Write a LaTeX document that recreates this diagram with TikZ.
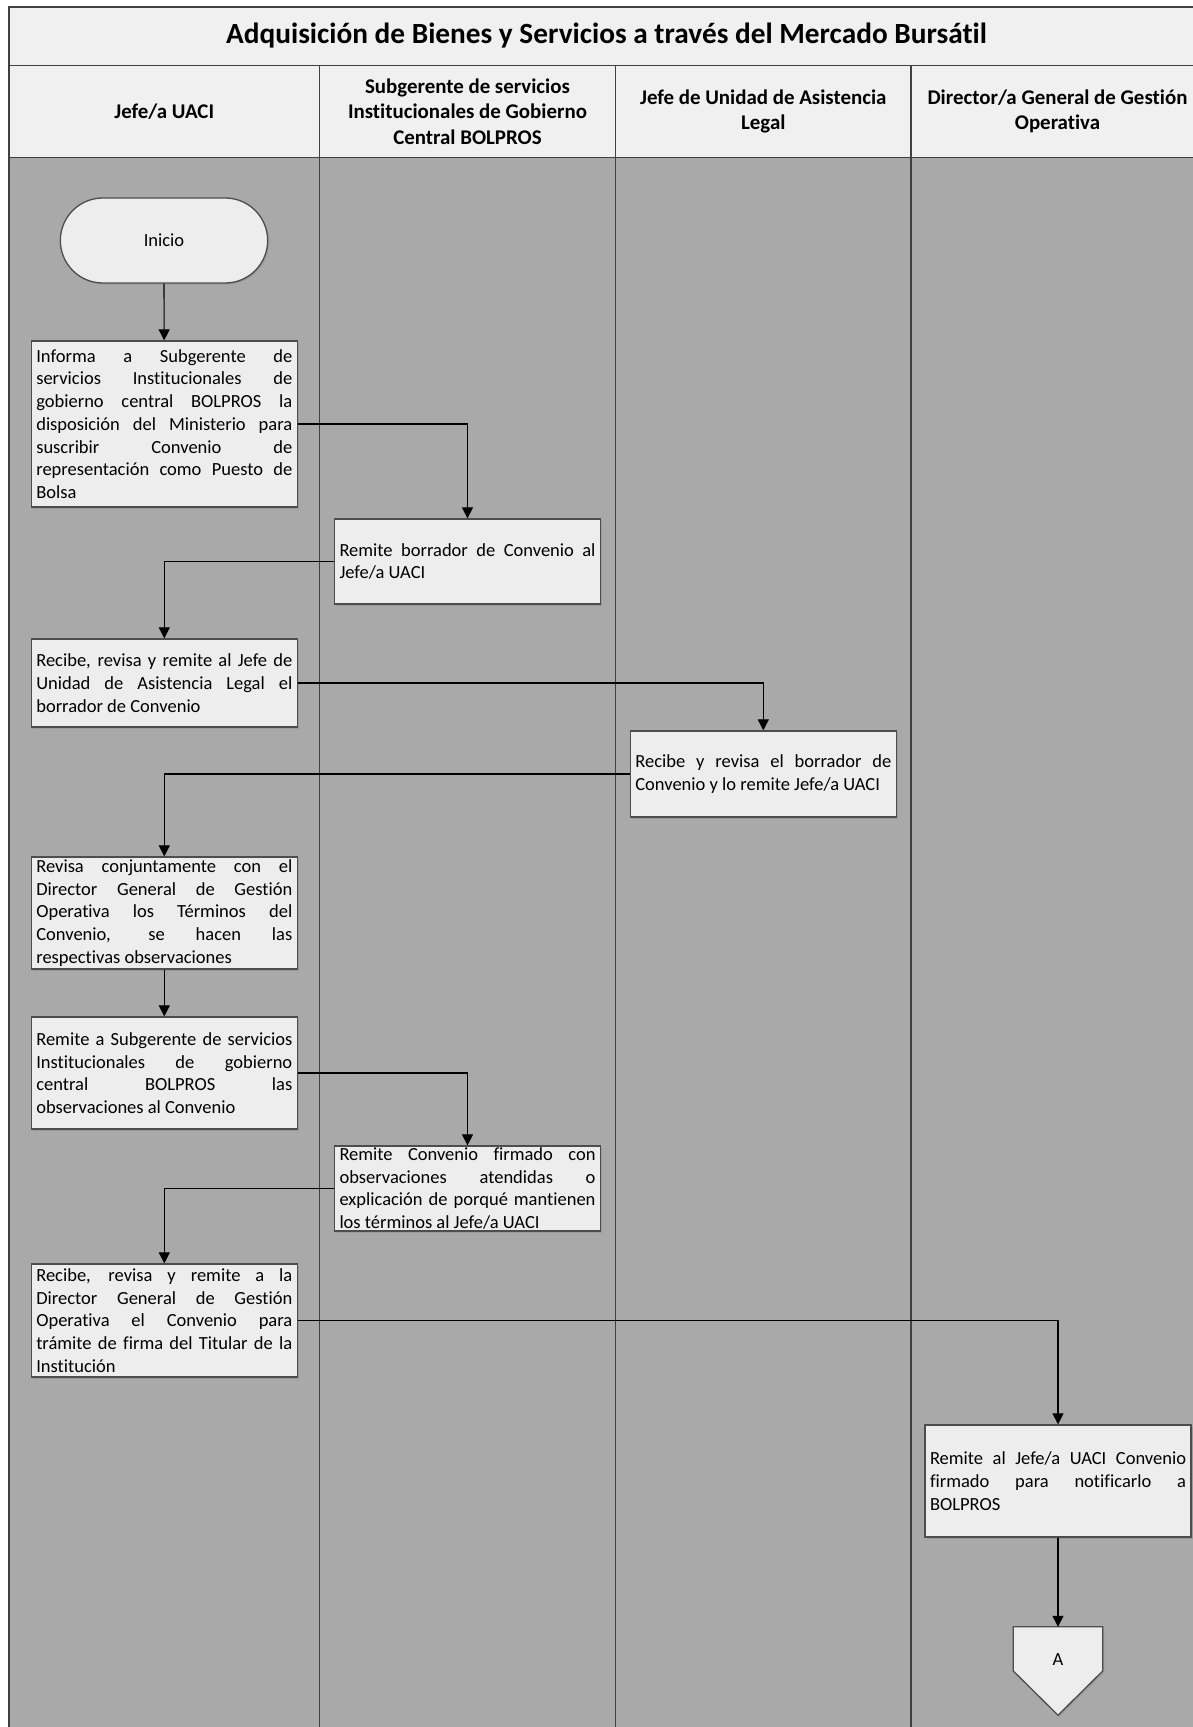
\documentclass[tikz,border=0pt]{standalone}
\usepackage{fontspec}
\setmainfont{Carlito}[Ligatures=NoCommon]
\usetikzlibrary{arrows.meta,shadows,shapes.misc}
\definecolor{lanegray}{HTML}{A9A9A9}
\definecolor{headfill}{HTML}{F0F0F0}
\definecolor{boxfill}{HTML}{EDEDED}
\definecolor{linedark}{HTML}{404040}
\definecolor{boxline}{HTML}{4D4D4D}
\newcommand\txtbody{\fontsize{18.5}{22.7}\selectfont\hyphenpenalty=10000\tolerance=10000\hbadness=10000}
\newcommand\txthead{\fontsize{20.9}{25.3}\selectfont\bfseries}
\newcommand\txttitle{\fontsize{29.3}{34}\selectfont\bfseries}
\begin{document}
\begin{tikzpicture}[x=1pt,y=-1pt,
  frame/.style={draw=linedark, line width=1.8pt},
  shp/.style={draw=boxline, line width=1.3pt, fill=boxfill,
    drop shadow={shadow xshift=1.5pt, shadow yshift=-1.5pt, opacity=0.35}},
  proc/.style={shp, text width=256pt, inner xsep=5pt, inner ysep=1pt,
    align=justify, font=\txtbody},
  head/.style={align=center, font=\txthead, inner sep=0pt},
  flow/.style={draw=black, line width=1.2pt, -{Triangle[length=11pt,width=11pt]}},
]
\useasboundingbox (0,0) rectangle (1193,1727);
\clip (0,0) rectangle (1193,1727);
% pool background
\fill[headfill] (9,6.7) rectangle (1204,157.5);
\fill[lanegray] (9,157.5) rectangle (1204,1740);
\draw[frame] (9,1740) -- (9,6.7) -- (1204,6.7) -- (1204,1740);
\draw[frame] (9,65.5) -- (1204,65.5);
\draw[frame] (9,157.5) -- (1204,157.5);
\foreach \x in {319.5,615.5,911} \draw[frame] (\x,65.5) -- (\x,1740);
% titles
\node[font=\txttitle, inner sep=0pt] (title) at (606.5,36) {Adquisición de Bienes y Servicios a través del Mercado Bursátil};
\node[head] (h1) at (164.25,111.5) {Jefe/a UACI};
\node[head] (h2) at (467.5,111.5) {Subgerente de servicios\\Institucionales de Gobierno\\Central BOLPROS};
\node[head] (h3) at (763.3,111.5) {Jefe de Unidad de Asistencia\\Legal};
\node[head] (h4) at (1057.5,111.5) {Director/a General de Gestión\\Operativa};
% shapes
\node[shp, rounded rectangle, minimum width=214pt, minimum height=85pt, font=\txtbody] (inicio) at (164,240.5) {Inicio};
\node[proc, minimum height=166pt] (b1) at (164.3,424) {Informa a Subgerente de\linebreak servicios Institucionales de\linebreak gobierno central BOLPROS la\linebreak disposición del Ministerio para\linebreak suscribir Convenio de\linebreak representación como Puesto de\linebreak Bolsa};
\node[proc, minimum height=85pt] (b2) at (467.5,561.5) {Remite borrador de Convenio al\linebreak Jefe/a UACI};
\node[proc, minimum height=88pt] (b3) at (164.3,683) {Recibe, revisa y remite al Jefe de\linebreak Unidad de Asistencia Legal el\linebreak borrador de Convenio};
\node[proc, minimum height=86pt] (b4) at (763.3,774) {Recibe y revisa el borrador de\linebreak Convenio y lo remite Jefe/a UACI};
\node[proc, minimum height=112pt] (b5) at (164.3,913) {Revisa conjuntamente con el\linebreak Director General de Gestión\linebreak Operativa los Términos del\linebreak Convenio, se hacen las\linebreak respectivas observaciones};
\node[proc, minimum height=112pt] (b6) at (164.3,1073) {Remite a Subgerente de servicios\linebreak Institucionales de gobierno\linebreak central BOLPROS las\linebreak observaciones al Convenio};
\node[proc, minimum height=85pt] (b7) at (467.5,1188.5) {Remite Convenio firmado con\linebreak observaciones atendidas o\linebreak explicación de porqué mantienen\linebreak los términos al Jefe/a UACI};
\node[proc, minimum height=113pt] (b8) at (164.3,1320.5) {Recibe, revisa y remite a la\linebreak Director General de Gestión\linebreak Operativa el Convenio para\linebreak trámite de firma del Titular de la\linebreak Institución};
\node[proc, minimum height=112pt] (b9) at (1058,1481) {Remite al Jefe/a UACI Convenio\linebreak firmado para notificarlo a\linebreak BOLPROS};
% off-page connector
\node[minimum width=89pt, minimum height=88pt, inner sep=0pt] (A) at (1058,1671) {};
\draw[shp] (A.north west) -- (A.north east) -- (A.east) -- (A.south) -- (A.west) -- cycle;
\node[font=\txtbody, inner sep=0pt] (Alab) at (1058,1660) {A};
% connectors
\draw[flow] (inicio) -- (b1);
\draw[flow] (b1.east) -| (b2.north);
\draw[flow] (b2.west) -| (b3.north);
\draw[flow] (b3.east) -| (b4.north);
\draw[flow] (b4.west) -| (b5.north);
\draw[flow] (b5) -- (b6);
\draw[flow] (b6.east) -| (b7.north);
\draw[flow] (b7.west) -| (b8.north);
\draw[flow] (b8.east) -| (b9.north);
\draw[flow] (b9) -- (A);
\end{tikzpicture}
\end{document}
